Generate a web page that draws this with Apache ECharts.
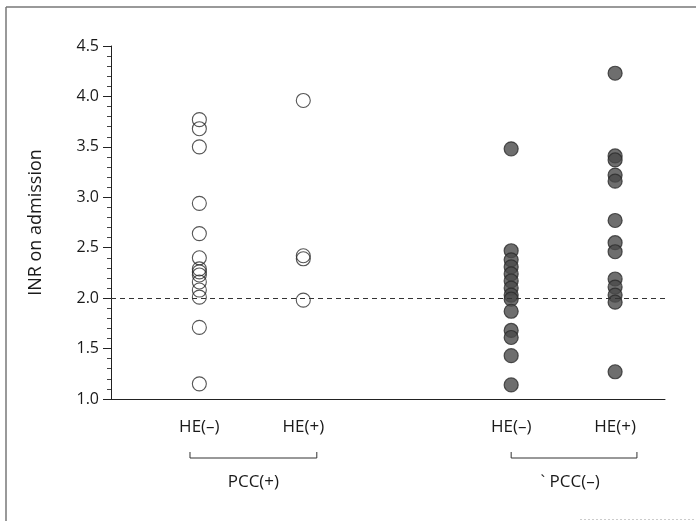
<!DOCTYPE html>
<html>
<head>
<meta charset="utf-8">
<script src="https://cdn.jsdelivr.net/npm/echarts@6/dist/echarts.min.js"></script>
<style>html,body{margin:0;padding:0;background:#fff}#c{width:696px;height:521px}</style>
</head>
<body>
<div id="c"></div>
<script>
// group positions on the hidden x scale and their labels
var groupPos = [1, 2, 4, 5];
var groupLabels = ['HE(–)', 'HE(+)', 'HE(–)', 'HE(+)'];
var pccLabels = ['PCC(+)', '` PCC(–)'];
var yTicks = [1.0, 1.5, 2.0, 2.5, 3.0, 3.5, 4.0, 4.5];
var cutoff = 2.0;

// INR on admission values per group
var pccPosHeNeg = [3.77, 3.68, 3.50, 2.94, 2.64, 2.40, 2.29, 2.26, 2.23, 2.16, 2.08, 2.01, 1.71, 1.15];
var pccPosHePos = [3.96, 2.42, 2.39, 1.98];
var pccNegHeNeg = [3.48, 2.47, 2.38, 2.31, 2.24, 2.17, 2.10, 2.03, 1.99, 1.87, 1.68, 1.61, 1.43, 1.14];
var pccNegHePos = [4.23, 3.41, 3.37, 3.22, 3.16, 2.77, 2.55, 2.46, 2.19, 2.11, 2.03, 1.96, 1.27];

function pts(pos, arr) { return arr.map(function (v) { return [pos, v]; }); }

var FONT = '"Open Sans", "Noto Sans", sans-serif';
var openStyle = { color: 'rgba(255,255,255,0)', borderColor: '#2a2a2a', borderWidth: 1.1 };
var filledStyle = { color: '#4a4a4a', borderColor: '#2a2a2a', borderWidth: 1.2 };

var chart = echarts.init(document.getElementById('c'));
var option = {
  animation: false,
  backgroundColor: '#fff',
  grid: { left: 111, right: 31, top: 46, bottom: 122 },
  xAxis: {
    type: 'value', min: 0.15, max: 5.48,
    axisLine: { show: true, lineStyle: { color: '#222', width: 1 } },
    axisTick: { show: false },
    splitLine: { show: false },
    axisLabel: {
      customValues: groupPos,
      margin: 20,
      fontFamily: FONT, fontSize: 17, color: '#1a1a1a',
      formatter: function (v) {
        var i = groupPos.indexOf(v);
        return i >= 0 ? groupLabels[i] : '';
      }
    }
  },
  yAxis: {
    type: 'value', min: 1, max: 4.5, interval: 0.5,
    name: 'INR on admission', nameLocation: 'middle', nameGap: 66, nameRotate: 90,
    nameTextStyle: { fontFamily: FONT, fontSize: 18, color: '#1a1a1a' },
    axisLine: { show: true, lineStyle: { color: '#222', width: 1 } },
    axisTick: { show: true, length: 8, lineStyle: { color: '#222' } },
    minorTick: { show: true, splitNumber: 5, length: 4, lineStyle: { color: '#444' } },
    splitLine: { show: false },
    axisLabel: {
      margin: 12, fontFamily: FONT, fontSize: 16, color: '#1a1a1a',
      formatter: function (v) { return v.toFixed(1); }
    }
  },
  series: [
    { type: 'scatter', symbol: 'circle', symbolSize: 14, itemStyle: openStyle, data: pts(groupPos[0], pccPosHeNeg),
      markLine: { silent: true, symbol: 'none', label: { show: false },
        lineStyle: { type: [5, 4], color: '#333', width: 1 },
        data: [{ yAxis: cutoff }] } },
    { type: 'scatter', symbol: 'circle', symbolSize: 14, itemStyle: openStyle, data: pts(groupPos[1], pccPosHePos) },
    { type: 'scatter', symbol: 'circle', symbolSize: 14, itemStyle: filledStyle, data: pts(groupPos[2], pccNegHeNeg) },
    { type: 'scatter', symbol: 'circle', symbolSize: 14, itemStyle: filledStyle, data: pts(groupPos[3], pccNegHePos) }
  ]
};
chart.setOption(option);

// brackets and group labels below the axis, placed via the axis scale
var base = chart.convertToPixel({ xAxisIndex: 0, yAxisIndex: 0 }, [0, 1])[1];
var g = [
  { type: 'line', shape: { x1: 6, y1: 7, x2: 696, y2: 7 }, style: { stroke: '#777', lineWidth: 1.5 } },
  { type: 'line', shape: { x1: 6, y1: 7, x2: 6, y2: 521 }, style: { stroke: '#777', lineWidth: 1.5 } },
  { type: 'line', shape: { x1: 580, y1: 519.5, x2: 696, y2: 519.5 }, style: { stroke: '#ccc', lineWidth: 1, lineDash: [2, 2] } }
];
var bracketPad = [[-0.09, 0.13], [0.0, 0.21]];
var textShift = [0, -4];
[[0, 1], [2, 3]].forEach(function (pair, k) {
  var xa = chart.convertToPixel({ xAxisIndex: 0, yAxisIndex: 0 }, [groupPos[pair[0]] + bracketPad[k][0], 1])[0];
  var xb = chart.convertToPixel({ xAxisIndex: 0, yAxisIndex: 0 }, [groupPos[pair[1]] + bracketPad[k][1], 1])[0];
  var yb = base + 59;
  g.push({ type: 'polyline', shape: { points: [[xa, yb - 6], [xa, yb], [xb, yb], [xb, yb - 6]] },
    style: { stroke: '#333', lineWidth: 1, fill: null } });
  g.push({ type: 'text', x: (xa + xb) / 2 + textShift[k], y: base + 83,
    style: { text: pccLabels[k], font: '17px ' + FONT, fill: '#1a1a1a', align: 'center', verticalAlign: 'middle' } });
});
chart.setOption({ graphic: g });
</script>
</body>
</html>
